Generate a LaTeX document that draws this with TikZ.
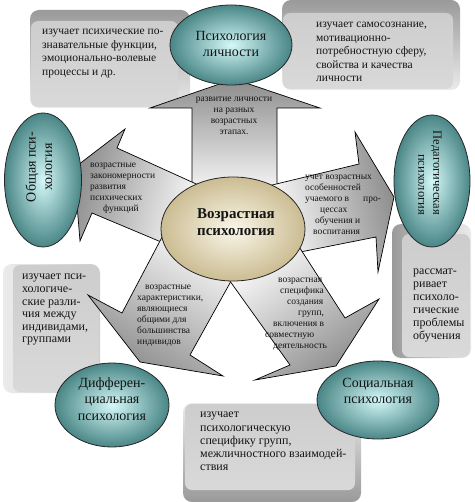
\documentclass[tikz,border=0pt]{standalone}
\usepackage{fontspec}
\setmainfont{Liberation Serif}
\usetikzlibrary{shapes.geometric}
\definecolor{tealL}{HTML}{D4F8F8}
\definecolor{tealD}{HTML}{4A8686}
\definecolor{creamL}{HTML}{FAF7EA}
\definecolor{creamD}{HTML}{CBBC92}
\definecolor{faceG}{HTML}{CDCDCD}
\definecolor{faceL}{HTML}{D9D9D9}
\definecolor{bevD}{HTML}{9A9A9A}
\definecolor{bevL}{HTML}{EBEBEB}
\definecolor{arrG}{HTML}{8C8C8C}
\definecolor{txt}{HTML}{141414}
\begin{document}
\begin{tikzpicture}[x=1pt,y=-1pt,
  every node/.style={inner sep=0pt, text=txt},
  bigarrow/.style={draw=black, line width=0.7pt, line join=miter, top color=arrG, bottom color=white},
  tealell/.style={ellipse, draw=black!85, line width=0.8pt, inner color=tealL, outer color=tealD, inner sep=0pt},
  creamell/.style={ellipse, draw=black!85, line width=0.8pt, inner color=creamL, outer color=creamD, inner sep=0pt},
  boxtext/.style={align=left, anchor=north west, font=\fontsize{11.5}{13.5}\selectfont},
  arrtext/.style={align=left, anchor=north west, font=\fontsize{9.5}{11}\selectfont},
  elltext/.style={align=center, font=\fontsize{14}{16.5}\selectfont}]
\useasboundingbox (0,0) rectangle (474,502);
% ---- bevelled boxes
\shade[top color=bevD, bottom color=bevL, rounded corners=9pt] (30,10) rectangle (190,108);
\shade[top color=faceG, bottom color=faceL, rounded corners=7pt] (31,21) rectangle (178,107);
\shade[top color=bevD, bottom color=bevL, rounded corners=9pt] (282,0) rectangle (460,90);
\shade[top color=faceG, bottom color=faceL, rounded corners=7pt] (283,13) rectangle (453,89);
\shade[left color=bevL, right color=faceG, rounded corners=9pt] (3,264) rectangle (100,393);
\shade[top color=faceG, bottom color=faceL, rounded corners=7pt] (13,265) rectangle (99,392);
\shade[left color=bevD, right color=bevL, rounded corners=9pt] (392,224) rectangle (471,358);
\shade[top color=faceG, bottom color=faceL, rounded corners=7pt] (402,234) rectangle (470,357);
\shade[top color=bevL, bottom color=bevD, rounded corners=9pt] (183,403) rectangle (361,502);
\shade[top color=faceG, bottom color=faceL, rounded corners=7pt] (185,404) rectangle (355,490);
\node[boxtext] (tTL) at (42,29) {изучает психические по-\\знавательные функции,\\эмоционально-волевые\\процессы и др.};
\node[boxtext] (tTR) at (316,22) {изучает самосознание,\\мотивационно-\\потребностную сферу,\\свойства и качества\\личности};
\node[boxtext, font=\fontsize{12}{12.6}\selectfont] (tL) at (22,274) {изучает пси-\\хологиче-\\ские разли-\\чия между\\индивидами,\\группами};
\node[boxtext, font=\fontsize{12}{13}\selectfont] (tR) at (413,269) {рассмат-\\ривает\\психоло-\\гические\\проблемы\\обучения};
\node[boxtext, font=\fontsize{12}{13.2}\selectfont] (tB) at (200,412) {изучает\\психологическую\\специфику групп,\\межличностного взаимодей-\\ствия};
% ---- block arrows
\draw[bigarrow, shading angle=0] (192,200) -- (192,108) -- (150,108) -- (234,79) -- (320,108) -- (277,108) -- (277,200) -- cycle;
\draw[bigarrow, shading angle=75] (205,188) -- (117,148) -- (125,129) -- (74,168) -- (80,241) -- (92,213) -- (185,252) -- cycle;
\draw[bigarrow, shading angle=-78] (268,186) -- (359,164) -- (355,132) -- (394,197) -- (378,272) -- (376,237) -- (285,255) -- cycle;
\draw[bigarrow, shading angle=150] (170,222) -- (122,313) -- (88,295) -- (140,362) -- (223,376) -- (190,355) -- (235,274) -- cycle;
\draw[bigarrow, shading angle=-145] (294,239) -- (345,318) -- (379,299) -- (336,366) -- (255,380) -- (290,365) -- (222,270) -- cycle;
% ---- arrow texts
\node[arrtext, align=center, anchor=north] (aU) at (234,97) {развитие личности\\на разных\\возрастных\\этапах.};
\node[arrtext] (aL) at (90,163) {возрастные\\закономерности\\развития\\психических\\\hspace*{13pt}функций};
\node[arrtext] (aR) at (305,175) {учет возрастных\\особенностей\\учаемого в\hspace{14pt}про-\\\hspace*{15pt}цессах\\\hspace*{10pt}обучения и\\\hspace*{8pt}воспитания};
\node[arrtext] (aLL) at (137,285) {\hspace*{8pt}возрастные\\характеристики,\\являющиеся\\общими для\\большинства\\индивидов};
\node[arrtext] (aLR) at (265,278) {\hspace*{13pt}возрастная\\\hspace*{15pt}специфика\\\hspace*{22pt}создания\\\hspace*{33pt}групп,\\\hspace*{8pt}включения в\\совместную\\\hspace*{8pt}деятельность};
% ---- ellipses
\node[tealell, minimum width=122pt, minimum height=80pt] (ePL) at (231,45) {};
\node[tealell, minimum width=77pt, minimum height=134pt] (eOP) at (43,180) {};
\node[tealell, minimum width=76pt, minimum height=132pt] (ePP) at (432,181) {};
\node[tealell, minimum width=114pt, minimum height=84pt] (eDP) at (112,405) {};
\node[tealell, minimum width=122pt, minimum height=78pt] (eSP) at (378,400) {};
\node[creamell, minimum width=144pt, minimum height=104pt] (eVP) at (233,229) {};
\node[elltext] (xPL) at (231,44) {Психология\\личности};
\node[elltext, rotate=90] (xOP) at (39,167) {Общая пси-\\хология};
\node[elltext, rotate=-90, align=right, font=\fontsize{12.5}{15}\selectfont] (xPP) at (430,173) {Педагогическая\\психология};
\node[elltext] (xDP) at (112,399) {Дифферен-\\циальная\\психология};
\node[elltext] (xSP) at (378,391) {Социальная\\психология};
\node[align=center, font=\bfseries\fontsize{15}{17}\selectfont] (xVP) at (236,222) {Возрастная\\психология};
\end{tikzpicture}
\end{document}
